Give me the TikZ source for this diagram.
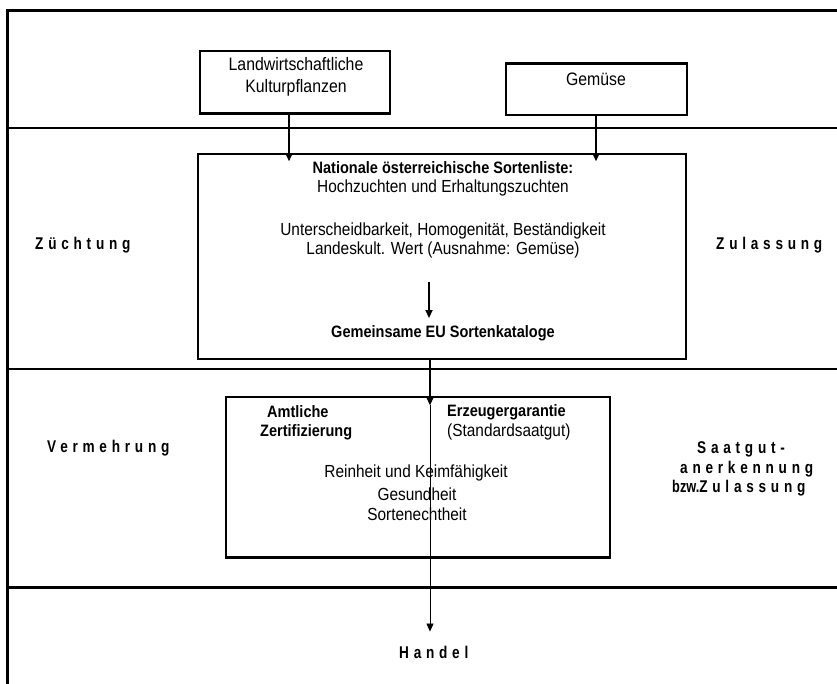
\documentclass[tikz,border=0pt]{standalone}
\usepackage{fontspec}
\setmainfont{Liberation Sans}[FakeStretch=0.88]
\newfontfamily\spc{Liberation Sans Bold}[FakeStretch=0.8,LetterSpace=28]
\newfontfamily\cnb{Liberation Sans Bold}[FakeStretch=0.75]
\usetikzlibrary{arrows.meta,calc}
\begin{document}
\begin{tikzpicture}[x=1pt,y=-1pt,
  txt/.style={inner sep=0pt, font=\fontsize{17.5}{20}\selectfont},
  btxt/.style={inner sep=0pt, font=\fontsize{16.5}{20}\selectfont\bfseries},
  lbl/.style={inner sep=0pt, anchor=west, font=\fontsize{17}{19}\selectfont\spc},
  box/.style={draw, line width=1.2pt, inner sep=0pt},
  arr/.style={-{Triangle[width=7pt,length=8pt]}, line width=1.6pt},
  thinarr/.style={-{Triangle[width=7pt,length=8pt]}, line width=0.8pt}]
\useasboundingbox (0,0) rectangle (837,684);
% frame and dividers
\draw[line width=3pt] (845,11) -- (7,11) -- (7,690);
\draw[line width=2pt] (7,128) -- (845,128);
\draw[line width=1.6pt] (7,369) -- (845,369);
\draw[line width=3pt] (7,587) -- (845,587);
% top boxes
\node[box, minimum width=190pt, minimum height=62pt] (landw) at (295,82) {};
\draw[line width=3pt] (landw.south west) -- (landw.south east);
\node[txt, align=center, font=\fontsize{18}{22}\selectfont] (landwt) at (296,77) {Landwirtschaftliche\\Kulturpflanzen};
\node[txt, font=\fontsize{18}{22}\selectfont] (gemuset) at (596,79) {Gemüse};
\node[box, minimum width=181pt, minimum height=51pt] (gemuse) at (596.5,89.5) {};
\draw[line width=3pt] (gemuse.north west) -- (gemuse.north east);
% main box
\node[box, line width=1.5pt, minimum width=488pt, minimum height=205pt] (main) at (442,256.5) {};
\node[btxt] (nat) at (443,168) {Nationale österreichische Sortenliste:};
\node[txt] (hoch) at (443,188) {Hochzuchten und Erhaltungszuchten};
\node[txt] (unter) at (443,231) {Unterscheidbarkeit, Homogenität, Beständigkeit};
\node[txt] (landes) at (443,250) {Landeskult. Wert (Ausnahme: Gemüse)};
\node[btxt] (eu) at (443,333) {Gemeinsame EU Sortenkataloge};
% second box
\node[box, minimum width=384pt, minimum height=160pt] (box2) at (418,477) {};
\draw[line width=3pt] (box2.south west) -- (box2.south east);
\node[btxt, anchor=west] (amt) at (267,412) {Amtliche};
\node[btxt, anchor=west] (zert) at (260,432) {Zertifizierung};
\node[btxt, anchor=west] (erz) at (447,412) {Erzeugergarantie};
\node[txt, anchor=west] (std) at (447,432) {(Standardsaatgut)};
\node[txt] (rein) at (416,473) {Reinheit und Keimfähigkeit};
\node[txt] (ges) at (417,494) {Gesundheit};
\node[txt] (sor) at (417,514) {Sortenechtheit};
% side labels
\node[lbl] (zuecht) at (35,245) {Züchtung};
\node[lbl] (zul) at (716,245) {Zulassung};
\node[lbl] (verm) at (47,448) {Vermehrung};
\node[lbl] (saat) at (697,449) {Saatgut-};
\node[lbl] (anerk) at (680,469) {anerkennung};
\node[inner sep=0pt, anchor=west, font=\fontsize{17}{19}\selectfont] (bzw) at (672,488) {\cnb bzw.\spc Zulassung};
\node[lbl] (handel) at (399,652) {Handel};
% connectors
\coordinate (a1) at (289,0);
\coordinate (a2) at (596,0);
\coordinate (v) at (430,0);
\coordinate (m1) at (429,282);
\draw[arr] (landw.south -| a1) -- ($(main.north -| a1)+(0,8)$);
\draw[arr] (gemuse.south -| a2) -- ($(main.north -| a2)+(0,8)$);
\draw[arr] (m1) -- ($(eu.north -| m1)+(0,-7)$);
\draw[arr, line width=1.2pt] (main.south -| v) -- ($(box2.north -| v)+(0,9)$);
\draw[thinarr] ($(box2.north -| v)+(0,9)$) -- ($(handel.north -| v)+(0,-14)$);
\end{tikzpicture}
\end{document}
